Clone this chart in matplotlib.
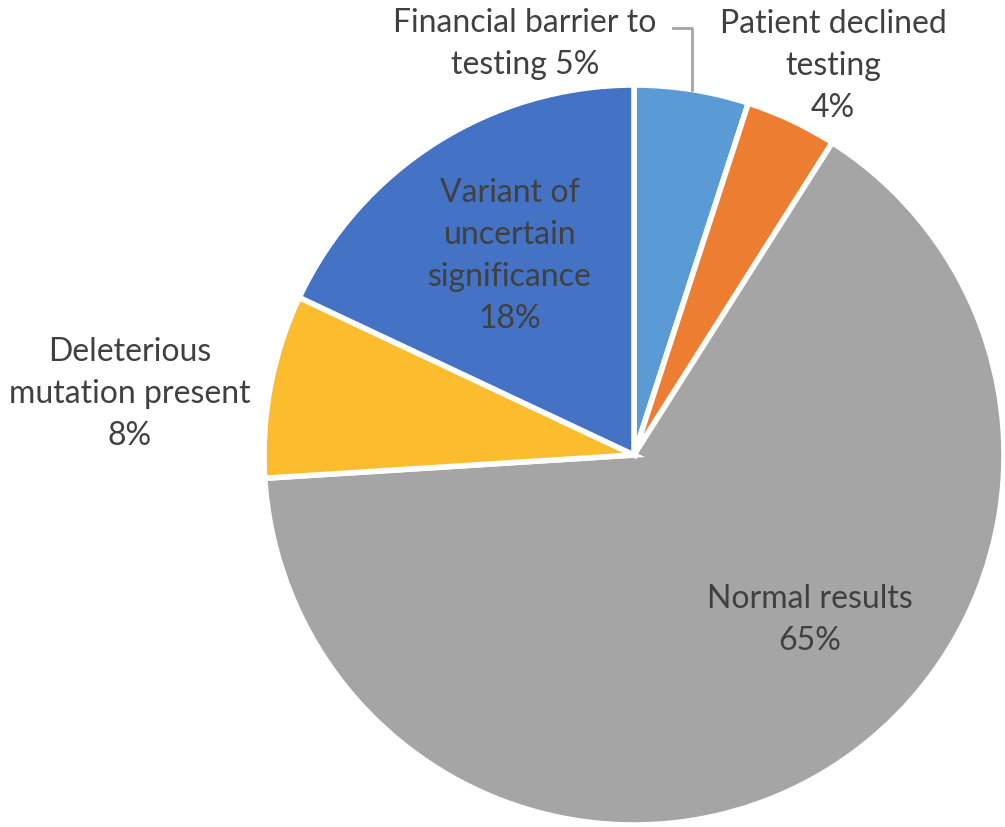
import matplotlib.pyplot as plt
import numpy as np

labels = ['Financial barrier to\ntesting 5%', 'Patient declined\ntesting\n4%', 'Normal results\n65%',
          'Deleterious\nmutation present\n8%', 'Variant of\nuncertain\nsignificance\n18%']
values = [5, 4, 65, 8, 18]
colors = ['#5B9BD5', '#ED7D31', '#A5A5A5', '#FBBC2D', '#4472C4']

# label centres in pixels of the 1005x827 image
label_px = [(525, 44), (833, 66), (810, 620), (130, 394), (510, 256)]

W, H = 1005, 827
cx, cy, R = 634, 455, 370

plt.rcParams['font.family'] = ['Lato', 'DejaVu Sans']

fig = plt.figure(figsize=(W / 100, H / 100), dpi=100)
ax = fig.add_axes([(cx - R) / W, (H - cy - R) / H, 2 * R / W, 2 * R / H])
ax.pie(values, colors=colors, startangle=90, counterclock=False, radius=1,
       wedgeprops=dict(edgecolor='white', linewidth=4))
ax.set_xlim(-1, 1)
ax.set_ylim(-1, 1)
ax.set_aspect('equal')
ax.axis('off')


def to_data(px, py):
    return (px - cx) / R, (cy - py) / R


for text, (px, py) in zip(labels, label_px):
    x, y = to_data(px, py)
    ax.text(x, y, text, ha='center', va='center', fontsize=23, color='#404040',
            linespacing=1.5, clip_on=False)

# leader line for the financial barrier label
mid = np.deg2rad(90 - values[0] / 100 * 360 / 2)
ex, ey = np.cos(mid), np.sin(mid)
x0, y0 = to_data(673, 28)
ax.plot([x0, ex, ex], [y0, y0, ey], color='#A5A5A5', lw=2, clip_on=False)

fig.savefig('out.png', dpi=100)
